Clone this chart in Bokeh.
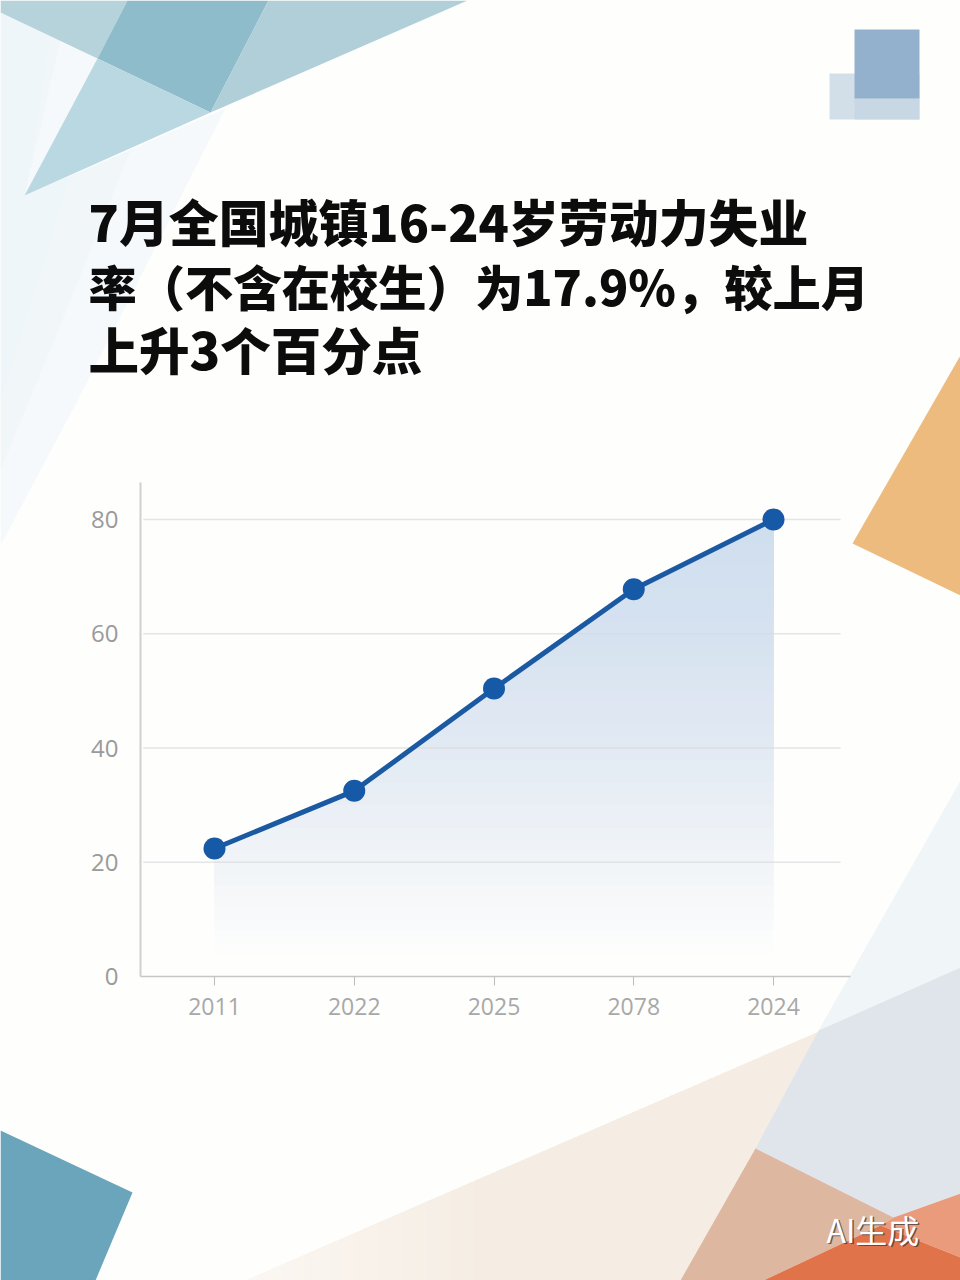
import numpy as np
from bokeh.plotting import figure
from bokeh.models import GridBox, FixedTicker, Range1d
from bokeh.core.properties import value
from bokeh.embed import file_html
from bokeh.resources import INLINE

# ---- chart data ----
years = ["2011", "2022", "2025", "2078", "2024"]
rates = [22.4, 32.5, 50.4, 67.8, 80.0]
y_ticks = [0, 20, 40, 60, 80]
title_lines = ["7月全国城镇16-24岁劳动力失业",
               "率（不含在校生）为17.9%，较上月",
               "上升3个百分点"]
watermark = "AI生成"

W, H = 960, 1280
BG = "#fefefd"


def hex2rgb(h):
    return np.array([int(h[i:i + 2], 16) for i in (1, 3, 5)], float)


def mix(stops, t):
    """colour at position t in a list of (position, hex) stops"""
    pos = [s[0] for s in stops]
    rgb = np.array([hex2rgb(s[1]) for s in stops])
    c = [np.interp(t, pos, rgb[:, k]) for k in range(3)]
    return "#%02x%02x%02x" % tuple(int(round(v)) for v in c)


# ---- decorative background shapes (page pixels) ----
soft_left = [
    ([0, 97, 24, 225, 85, 0], [12, 58, 195, 108, 385, 545], "#f3f8fa", 0.8),
    ([0, 60, 24, 130, 70, 0], [12, 40, 195, 150, 300, 470], "#eef5f9", 0.6),
    ([0, 50, 24, 70, 0], [12, 36, 195, 175, 400], "#ecf5f9", 0.5),
]
top_shapes = [
    ([0, 97, 127, 0], [12, 58, 0, 0], "#b6d2da"),
    ([127, 268, 210, 97], [0, 0, 112, 58], "#8ebccb"),
    ([268, 467, 210], [0, 0, 112], "#b0cfd8"),
    ([97, 210, 24], [58, 112, 195], "#bad8e2"),
    ([829, 919, 919, 829], [73, 73, 119, 119], "#d3dfe8"),
    ([854, 919, 919, 854], [98, 98, 119, 119], "#c8d7e4"),
    ([854, 919, 919, 854], [29, 29, 98, 98], "#93b1cc"),
    ([960, 852, 960], [355, 543, 595], "#eebb7f"),
    ([0, 132, 95, 0], [1130, 1192, 1280, 1280], "#6aa5bb"),
    ([960, 960, 818], [780, 967, 1030], "#f0f5f8"),
]
bottom_shapes = [
    ([818, 960, 960, 893, 755], [1030, 967, 1193, 1217, 1148], "#e0e5ec"),
    ([755, 893, 880, 763, 680], [1148, 1217, 1225, 1280, 1280], "#ddb7a0"),
    ([893, 960, 960, 880], [1217, 1193, 1257, 1225], "#ea9b7b"),
    ([763, 880, 960, 960], [1280, 1225, 1257, 1280], "#e0734a"),
]

# ---- background figure: page-pixel coordinates ----
bg = figure(width=W, height=H, x_range=Range1d(0, W), y_range=Range1d(H, 0),
            output_backend="svg", toolbar_location=None, min_border=0,
            background_fill_color=BG, border_fill_color=BG,
            outline_line_color=None, frame_align=False)
bg.axis.visible = False
bg.grid.visible = False
for xs, ys, c, a in soft_left:
    bg.patch(xs, ys, fill_color=c, fill_alpha=a, line_color=None)
for xs, ys, c in top_shapes:
    bg.patch(xs, ys, fill_color=c, line_color=None)

# cream wedge that fades out towards the lower left
cream = [(245, "#fbf7f2"), (480, "#f5ede3")]
for sx in np.arange(245, 490, 12):
    ey = 1280 - (sx - 245) * (1280 - 1032) / (817 - 245)
    bg.patch([sx, 817, 755, 680, sx], [ey, 1032, 1148, 1280, 1280],
             fill_color=mix(cream, sx), line_color=None)
for xs, ys, c in bottom_shapes:
    bg.patch(xs, ys, fill_color=c, line_color=None)

title_y = [219, 284, 347]
title_sizes = ["49.9px", "48.3px", "50.5px"]
for t, ty, fs in zip(title_lines, title_y, title_sizes):
    bg.text([88], [ty], text=[t], text_font=value("Noto Sans CJK SC Black"),
            text_font_style="bold", text_font_size=fs, text_color="#0c0c0c",
            text_baseline="middle", text_align="left")
bg.text([827.5], [1229.5], text=[watermark], text_font=value("Noto Sans CJK SC"),
        text_font_size="32px", text_color="#333333", text_alpha=0.7,
        text_baseline="middle", text_align="left")
bg.text([826], [1228], text=[watermark], text_font=value("Noto Sans CJK SC"),
        text_font_size="32px", text_color="#ffffff",
        text_baseline="middle", text_align="left")

# ---- chart figure ----
LEFT, RIGHT, TOP, BOTTOM = 140, 850, 482, 976
x0_px, dx_px = 214, 139.75
y_scale = 5.7125
p = figure(width=W, height=H,
           x_range=Range1d((LEFT - x0_px) / dx_px, (RIGHT - x0_px) / dx_px),
           y_range=Range1d(0, (BOTTOM - TOP) / y_scale),
           output_backend="svg", toolbar_location=None,
           min_border_left=LEFT, min_border_right=W - RIGHT,
           min_border_top=TOP, min_border_bottom=H - BOTTOM,
           background_fill_alpha=0, border_fill_alpha=0, outline_line_color=None,
           frame_align=False)
p.grid.visible = False

xi = list(range(len(years)))

# vertical fade under the line: solid layers painted from the bottom up
fade = [(3, BG), (20, "#f1f4f8"), (40, "#e2eaf3"), (60, "#d6e2f0"), (80, "#cfdeee")]
fx = np.linspace(xi[0], xi[-1], 560)
fy = np.interp(fx, xi, rates)
for lev in np.arange(0, max(rates), 2.0):
    p.varea(fx, y1=np.full_like(fx, lev), y2=np.maximum(fy, lev),
            fill_color=mix(fade, lev + 1))

p.segment(x0=[-0.51] * 4, x1=[4.48] * 4, y0=y_ticks[1:], y1=y_ticks[1:],
          line_color="#d9dadc", line_alpha=0.7, line_width=1.5)

p.line(xi, rates, line_color="#1b5aa3", line_width=5)
p.scatter(xi, rates, size=22, marker="circle", fill_color="#1659a7", line_color=None)

xa, ya = p.xaxis[0], p.yaxis[0]
xa.ticker = FixedTicker(ticks=xi)
xa.major_label_overrides = dict(zip(xi, years))
xa.axis_line_color = "#c6c6c6"
xa.axis_line_width = 1.5
xa.major_tick_line_color = "#bdbdbd"
xa.major_tick_out = 9
xa.major_tick_in = 0
xa.minor_tick_line_color = None
xa.major_label_standoff = 12
xa.major_label_text_font = "Open Sans"
xa.major_label_text_font_size = "23px"
xa.major_label_text_color = "#a8a8a8"

ya.ticker = FixedTicker(ticks=y_ticks)
ya.axis_line_color = "#d0d0d0"
ya.axis_line_width = 2
ya.major_tick_line_color = None
ya.minor_tick_line_color = None
ya.major_tick_out = 0
ya.major_label_standoff = 22
ya.major_label_text_font = "Open Sans"
ya.major_label_text_font_size = "24px"
ya.major_label_text_color = "#9a9a9a"

layout = GridBox(children=[(bg, 0, 0), (p, 0, 0)])
open("out.html", "w").write(file_html(layout, INLINE))
